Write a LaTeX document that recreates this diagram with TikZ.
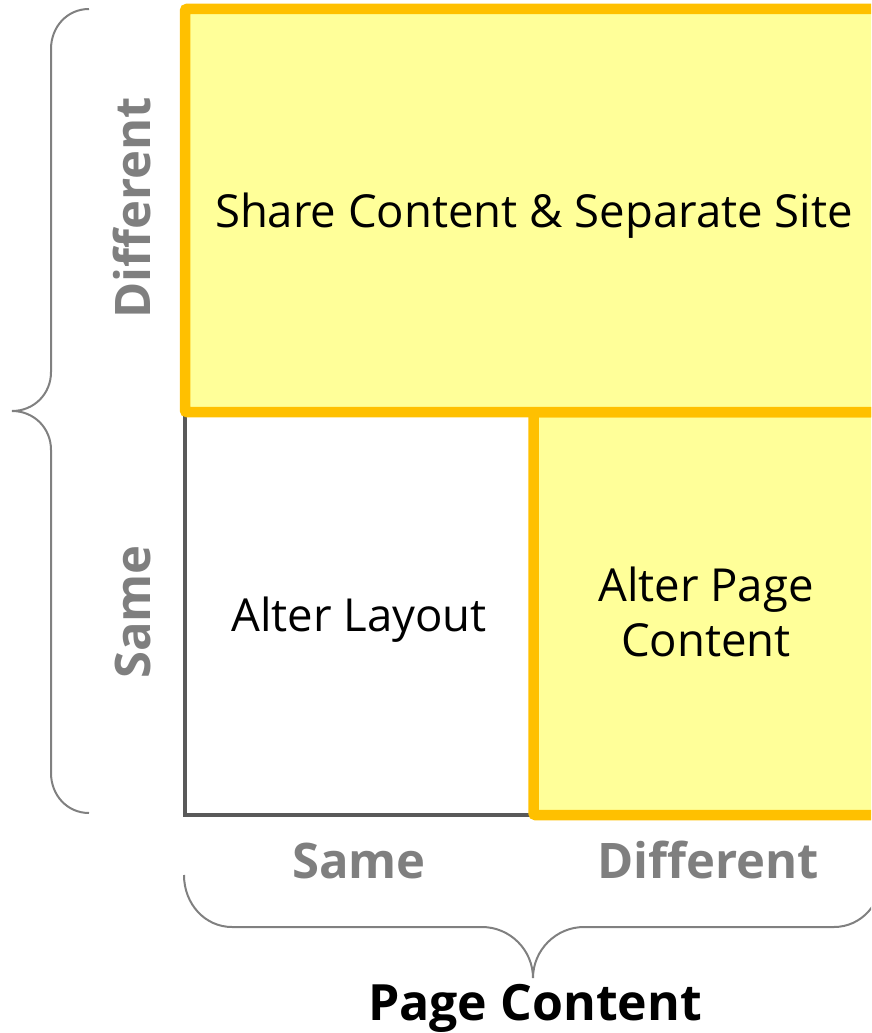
\documentclass[tikz,border=0pt]{standalone}
\usepackage{fontspec}
\setmainfont{Open Sans}
\definecolor{boxorange}{HTML}{FFC000}
\definecolor{boxfill}{HTML}{FFFF99}
\definecolor{axisgray}{HTML}{595959}
\definecolor{labelgray}{HTML}{7F7F7F}
\definecolor{bracegray}{HTML}{808080}
\tikzset{
  quadbox/.style={draw=boxorange, fill=boxfill, line width=10.5pt, rounded corners=2pt},
  quadtext/.style={font=\fontsize{45.5}{55}\selectfont, text=black, align=center, inner sep=0pt},
  axislabel/.style={font=\bfseries\fontsize{49}{58}\selectfont, text=labelgray, inner sep=0pt},
  titlelabel/.style={font=\bfseries\fontsize{50}{60}\selectfont, text=black, inner sep=0pt},
  bracestyle/.style={draw=bracegray, line width=2pt},
  axisline/.style={draw=axisgray, line width=4pt, line cap=round}
}
\begin{document}
\begin{tikzpicture}[x=1pt,y=-1pt]
\useasboundingbox (0,0) rectangle (871,1033);
\begin{scope}
\clip (0,0) rectangle (871,1033);
% axes of the lower-left quadrant
\coordinate (ll) at (185,815);
\coordinate (lt) at (185,412);
\coordinate (lr) at (533.5,815);
\draw[axisline] (lt) -- (ll) -- (lr);
% quadrants
\draw[quadbox] (533.5,412) rectangle (881,815);
\draw[quadbox] (185,9) rectangle (881,412);
% left brace
\draw[bracestyle] (89,9) .. controls (67,9) and (51,27) .. (51,49)
  -- (51,372) .. controls (51,394) and (34,411) .. (12,411)
  .. controls (34,411) and (51,428) .. (51,450)
  -- (51,773) .. controls (51,795) and (67,813) .. (89,813);
% bottom brace
\draw[bracestyle] (184,875) .. controls (184,904) and (205,927) .. (232,927)
  -- (482,927) .. controls (510,927) and (533,950) .. (533,978)
  .. controls (533,950) and (556,927) .. (584,927)
  -- (834,927) .. controls (861,927) and (882,904) .. (882,875);
\end{scope}
% quadrant texts
\node[quadtext, anchor=base] (share) at (534,227) {Share Content \& Separate Site};
\node[quadtext, anchor=base] (layout) at (359,631) {Alter Layout};
\node[quadtext] (pagec) at (706,612) {Alter Page\\Content};
% axis labels
\node[axislabel, rotate=90, anchor=base] (ydiff) at (150,208) {Different};
\node[axislabel, rotate=90, anchor=base] (ysame) at (150,612) {Same};
\node[axislabel, anchor=base] (xsame) at (359,878) {Same};
\node[axislabel, anchor=base] (xdiff) at (708,878) {Different};
\node[titlelabel, anchor=base] (title) at (535,1020) {Page Content};
\end{tikzpicture}
\end{document}
